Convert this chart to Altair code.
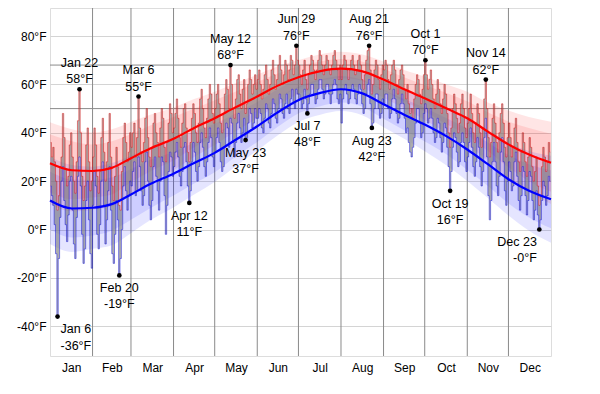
import altair as alt
import pandas as pd

# ---------------- data ----------------
month_names = ["Jan", "Feb", "Mar", "Apr", "May", "Jun", "Jul", "Aug", "Sep", "Oct", "Nov", "Dec"]
month_starts = [31, 59, 90, 120, 151, 181, 212, 243, 273, 304, 334]
month_mids = [15.5, 45, 74.5, 105, 135.5, 166, 196.5, 227.5, 258, 288.5, 319, 349.5]
y_ticks = [-40, -20, 0, 20, 40, 60, 80]
dark_lines = [50, 68]

hi_jan = [36, 30, 34, 28, 20, 8, 14, 26, 30, 48, 38, 25, 18, 22, 35, 40, 30, 20, 15, 28, 45, 58, 40, 22, 12, 18, 35, 42, 28, 16, 20]
lo_jan = [18, 14, 10, 2, -10, -36, -12, 5, 20, 26, 12, 2, -5, 6, 20, 22, 8, -6, -12, 5, 22, 30, 18, -2, -14, -8, 12, 20, 4, -10, -16]
hi_feb = [30, 42, 35, 22, 15, 24, 38, 46, 32, 20, 28, 36, 48, 30, 18, 12, 22, 34, 26, 10, 8, 24, 38, 44, 36, 28, 32, 40]
lo_feb = [10, 24, 18, -2, -8, 2, 20, 28, 10, -6, 4, 16, 26, 8, -10, -14, -2, 12, 4, -19, -12, 0, 18, 26, 16, 8, 14, 20]
hi_mar = [34, 40, 44, 30, 38, 55, 42, 32, 28, 36, 46, 50, 38, 30, 26, 34, 44, 48, 40, 36, 30, 42, 50, 46, 34, 28, 36, 44, 52, 48, 40]
lo_mar = [18, 24, 28, 14, 16, 30, 26, 16, 10, 14, 28, 32, 20, 10, 4, 12, 26, 30, 22, 16, 8, 20, 30, 28, 14, -2, 10, 24, 32, 30, 22]
hi_apr = [42, 48, 54, 46, 38, 34, 44, 50, 52, 42, 32, 28, 36, 46, 52, 48, 40, 36, 44, 54, 58, 50, 42, 38, 46, 54, 60, 56, 48, 44]
lo_apr = [26, 32, 36, 30, 22, 18, 24, 34, 36, 28, 18, 11, 16, 28, 36, 32, 24, 20, 26, 36, 40, 34, 26, 22, 28, 36, 42, 38, 30, 26]
hi_may = [50, 56, 60, 52, 44, 40, 48, 56, 62, 58, 50, 68, 60, 50, 46, 54, 62, 64, 56, 50, 58, 62, 48, 52, 60, 66, 62, 56, 60, 64, 58]
lo_may = [32, 38, 42, 36, 28, 24, 26, 34, 44, 42, 34, 46, 44, 36, 30, 36, 44, 48, 42, 36, 40, 46, 37, 38, 44, 50, 48, 42, 44, 50, 46]
hi_jun = [62, 66, 60, 54, 58, 64, 68, 62, 56, 60, 66, 70, 64, 58, 62, 68, 72, 66, 60, 64, 70, 68, 62, 66, 72, 70, 64, 68, 76, 70]
lo_jun = [46, 50, 48, 42, 40, 46, 52, 50, 44, 42, 48, 54, 52, 46, 44, 50, 56, 54, 48, 46, 52, 56, 50, 48, 54, 58, 52, 50, 58, 56]
hi_jul = [68, 64, 60, 66, 70, 62, 58, 64, 68, 72, 70, 66, 62, 66, 70, 74, 72, 68, 64, 68, 72, 70, 66, 64, 68, 72, 74, 70, 66, 62, 68]
lo_jul = [56, 54, 50, 52, 58, 54, 48, 52, 56, 60, 60, 56, 52, 54, 58, 62, 62, 58, 54, 56, 60, 60, 56, 52, 56, 60, 62, 60, 54, 52, 56]
hi_aug = [62, 68, 72, 70, 66, 62, 66, 70, 72, 68, 64, 66, 70, 72, 68, 62, 58, 64, 70, 74, 76, 66, 56, 60, 66, 70, 68, 62, 58, 64, 68]
lo_aug = [44, 54, 58, 60, 56, 52, 54, 58, 60, 58, 54, 52, 56, 60, 58, 52, 48, 50, 56, 60, 62, 52, 42, 44, 50, 56, 56, 50, 46, 48, 54]
hi_sep = [66, 70, 68, 62, 58, 64, 68, 70, 66, 60, 56, 62, 66, 68, 64, 58, 54, 60, 52, 48, 50, 46, 54, 60, 64, 62, 56, 52, 58, 64]
lo_sep = [52, 56, 56, 50, 46, 48, 54, 58, 54, 48, 44, 46, 52, 56, 52, 46, 40, 42, 36, 32, 30, 34, 38, 44, 50, 50, 44, 38, 40, 48]
hi_oct = [70, 64, 58, 62, 66, 60, 54, 50, 56, 62, 58, 52, 48, 54, 60, 56, 48, 40, 34, 42, 50, 56, 52, 46, 40, 44, 52, 56, 50, 42, 38]
lo_oct = [52, 50, 44, 46, 50, 46, 40, 36, 38, 46, 44, 38, 32, 36, 44, 42, 34, 26, 16, 24, 34, 40, 38, 32, 26, 28, 36, 40, 36, 28, 24]
hi_nov = [44, 50, 56, 48, 40, 36, 44, 52, 48, 40, 34, 42, 54, 62, 50, 38, 30, 36, 46, 52, 44, 36, 32, 40, 48, 52, 44, 34, 30, 38]
lo_nov = [30, 36, 42, 34, 26, 22, 28, 38, 34, 26, 18, 24, 38, 46, 30, 14, 4, 12, 28, 36, 28, 18, 14, 22, 32, 38, 28, 16, 10, 20]
hi_dec = [44, 38, 30, 34, 42, 46, 36, 28, 24, 32, 40, 36, 28, 22, 30, 38, 34, 26, 20, 24, 30, 18, 10, 14, 26, 34, 30, 24, 28, 36, 32]
lo_dec = [28, 24, 16, 18, 28, 32, 22, 12, 8, 14, 26, 24, 14, 6, 12, 24, 22, 12, 4, 8, 16, 6, 0, 4, 12, 20, 18, 10, 14, 22, 20]

# normals (read at roughly half-month points)
norm_day = [0, 16, 31, 45, 59, 73, 90, 105, 120, 135, 151, 166, 182, 197, 212, 227, 243, 258, 273, 289, 304, 319, 334, 349, 365]
hi_mean = [27.4, 24.5, 24.2, 25.5, 29.5, 33.5, 37.5, 42, 46, 50.5, 55, 59.5, 63.2, 65.5, 66.5, 65.5, 62, 58, 54.3, 50, 46, 40.5, 35.2, 31, 27.6]
hi_p90 = [44.4, 41.5, 40.2, 41.5, 44.5, 47.5, 50.5, 54, 57, 60.5, 64, 67.5, 70.2, 72.5, 73.5, 72.5, 69.5, 66, 63.3, 60, 57, 52.5, 49.2, 46.5, 44.6]
hi_p75 = [39.4, 36.5, 35.2, 36.5, 39.5, 43, 46.5, 50, 53.5, 57, 61, 64.5, 67.7, 69.5, 70.5, 69.5, 66.5, 63, 59.8, 56.5, 53, 48.5, 44.7, 42, 39.6]
hi_p25 = [15.4, 12.5, 13.2, 14.5, 19.5, 24, 28.5, 34, 38.5, 44, 49, 54.5, 58.7, 61.5, 62.5, 61.5, 57.5, 53, 48.8, 43.5, 39, 32.5, 25.7, 20, 15.6]
hi_p10 = [10.4, 7.5, 8.2, 9.5, 14.5, 19.5, 24.5, 30, 35, 40.5, 46, 51.5, 56.2, 58.5, 59.5, 58.5, 54.5, 50, 45.3, 40, 35, 28.5, 21.2, 15.5, 10.6]
lo_mean = [12, 8.7, 9, 10.5, 14.5, 18.8, 23.1, 27.5, 31.7, 37, 42.7, 48.5, 53.8, 56.5, 58, 56.4, 51.8, 47.5, 43.4, 38.5, 33.1, 27, 20.8, 16, 12.5]
lo_p90 = [30, 26.7, 26, 27.5, 30.5, 33.8, 37.1, 40.5, 43.7, 48, 52.7, 58, 62.8, 65.5, 67, 65.4, 61.3, 57.5, 54.4, 50.5, 46.1, 41, 35.8, 32.5, 30.5]
lo_p75 = [24, 20.7, 20.5, 21.5, 25, 28.8, 32.1, 36, 39.7, 44, 49.2, 54.5, 59.3, 62, 63.5, 61.9, 57.8, 54, 50.4, 46, 41.6, 36, 30.8, 27, 24.5]
lo_p25 = [0, -3.3, -2.5, -0.5, 4, 8.8, 14.1, 19, 23.7, 30, 36.2, 42.5, 48.3, 51, 52.5, 50.9, 45.8, 41, 36.4, 31, 24.6, 18, 10.8, 5, 0.5]
lo_p10 = [-6, -9.3, -8, -6.5, -1.5, 3.8, 9.1, 14.5, 19.7, 26, 32.7, 39, 44.8, 47.5, 49, 47.4, 42.3, 37.5, 32.4, 26.5, 20.1, 13, 5.8, -0.5, -5.5]

# annotations: day index, value, date label, value label
ann_hi_day = [21, 64, 131, 179, 232, 273, 317]
ann_hi_val = [58, 55, 68, 76, 76, 70, 62]
ann_hi_date = ["Jan 22", "Mar 6", "May 12", "Jun 29", "Aug 21", "Oct 1", "Nov 14"]
ann_hi_txt = ["58°F", "55°F", "68°F", "76°F", "76°F", "70°F", "62°F"]
ann_lo_day = [50, 101, 142, 187, 234, 291]
ann_lo_val = [-19, 11, 37, 48, 42, 16]
ann_lo_date = ["Feb 20", "Apr 12", "May 23", "Jul 7", "Aug 23", "Oct 19"]
ann_lo_txt = ["-19°F", "11°F", "37°F", "48°F", "42°F", "16°F"]
ann_left = {"day": [5], "val": [-36], "date": ["Jan 6"], "txt": ["-36°F"]}
ann_right = {"day": [356], "val": [0], "date": ["Dec 23"], "txt": ["-0°F"]}

# ---------------- tables ----------------
highs = hi_jan + hi_feb + hi_mar + hi_apr + hi_may + hi_jun + hi_jul + hi_aug + hi_sep + hi_oct + hi_nov + hi_dec
lows = lo_jan + lo_feb + lo_mar + lo_apr + lo_may + lo_jun + lo_jul + lo_aug + lo_sep + lo_oct + lo_nov + lo_dec
daily = pd.DataFrame({"x": [d + 0.5 for d in range(len(highs))], "hi": highs, "lo": lows})
norms = pd.DataFrame({
    "x": norm_day, "hm": hi_mean, "h90": hi_p90, "h75": hi_p75, "h25": hi_p25, "h10": hi_p10,
    "lm": lo_mean, "l90": lo_p90, "l75": lo_p75, "l25": lo_p25, "l10": lo_p10,
})
ann_hi = pd.DataFrame({"x": [d + 0.5 for d in ann_hi_day], "y": ann_hi_val, "date": ann_hi_date, "txt": ann_hi_txt})
ann_lo = pd.DataFrame({"x": [d + 0.5 for d in ann_lo_day], "y": ann_lo_val, "date": ann_lo_date, "txt": ann_lo_txt})
ann_l = pd.DataFrame({"x": [d + 0.5 for d in ann_left["day"]], "y": ann_left["val"], "date": ann_left["date"], "txt": ann_left["txt"]})
ann_r = pd.DataFrame({"x": [d + 0.5 for d in ann_right["day"]], "y": ann_right["val"], "date": ann_right["date"], "txt": ann_right["txt"]})
all_ann = pd.concat([ann_hi, ann_lo, ann_l, ann_r])

# ---------------- encodings ----------------
FONT = "Liberation Sans"
xscale = alt.Scale(domain=[0, 365], nice=False, zero=False)
yscale = alt.Scale(domain=[-52.3, 91.6], nice=False, zero=False)
label_arr = "[" + ",".join("'%s'" % m for m in month_names) + "]"
xaxis = alt.Axis(values=month_mids, labelExpr=label_arr + "[floor(datum.value/30.42)]",
                 grid=False, ticks=False, tickSize=0, domain=False, title=None,
                 labelFontSize=12, labelColor="#000", labelPadding=6, labelFont=FONT)
yaxis = alt.Axis(values=y_ticks, labelExpr="datum.value + '°F'", grid=True, gridColor="#d4d4d4",
                 ticks=False, tickSize=0, domain=False, title=None,
                 labelFontSize=12, labelColor="#000", labelPadding=4, labelFont=FONT)


def X(f):
    return alt.X(f"{f}:Q", scale=xscale, axis=xaxis)


def Y(f):
    return alt.Y(f"{f}:Q", scale=yscale, axis=yaxis)


layers = []
layers.append(alt.Chart(pd.DataFrame({"x": month_starts})).mark_rule(color="#8a8a8a", strokeWidth=1).encode(x=X("x")))
layers.append(alt.Chart(pd.DataFrame({"y": dark_lines})).mark_rule(color="#8a8a8a", strokeWidth=1).encode(y=Y("y")))

base_n = alt.Chart(norms)
layers.append(base_n.mark_area(color="red", opacity=0.1, interpolate="monotone").encode(x=X("x"), y=Y("h10"), y2="h90:Q"))
layers.append(base_n.mark_area(color="red", opacity=0.1, interpolate="monotone").encode(x=X("x"), y=Y("h25"), y2="h75:Q"))
layers.append(base_n.mark_area(color="blue", opacity=0.1, interpolate="monotone").encode(x=X("x"), y=Y("l10"), y2="l90:Q"))
layers.append(base_n.mark_area(color="blue", opacity=0.1, interpolate="monotone").encode(x=X("x"), y=Y("l25"), y2="l75:Q"))

base_d = alt.Chart(daily)
layers.append(base_d.mark_area(color="#7a7a7a", opacity=0.62, interpolate="step").encode(x=X("x"), y=Y("lo"), y2="hi:Q"))
layers.append(base_d.mark_line(color="#e00000", opacity=0.45, strokeWidth=1, interpolate="step").encode(x=X("x"), y=Y("hi")))
layers.append(base_d.mark_line(color="#0000e0", opacity=0.45, strokeWidth=1, interpolate="step").encode(x=X("x"), y=Y("lo")))

layers.append(base_n.mark_line(color="#ff0000", strokeWidth=2.2, interpolate="monotone").encode(x=X("x"), y=Y("hm")))
layers.append(base_n.mark_line(color="#0000ff", strokeWidth=2.2, interpolate="monotone").encode(x=X("x"), y=Y("lm")))

layers.append(alt.Chart(all_ann).mark_circle(color="black", opacity=1, size=22).encode(x=X("x"), y=Y("y")))


def txt(df, field, align, dx, dy):
    return alt.Chart(df).mark_text(align=align, baseline="middle", dx=dx, dy=dy, fontSize=12.5,
                                   font=FONT, color="#000").encode(x=X("x"), y=Y("y"), text=f"{field}:N")


layers += [
    txt(ann_hi, "date", "center", 0, -26.5), txt(ann_hi, "txt", "center", 0, -10),
    txt(ann_lo, "date", "center", 0, 12.7), txt(ann_lo, "txt", "center", 0, 28.8),
    txt(ann_l, "date", "left", 3, 12.7), txt(ann_l, "txt", "left", 3, 29.2),
    txt(ann_r, "date", "right", -2.5, 12.7), txt(ann_r, "txt", "right", -2.5, 28.5),
]

chart = alt.layer(*layers).properties(
    width=501, height=348,
    autosize=alt.AutoSizeParams(type="none"),
    padding={"left": 42, "top": 0, "right": 41, "bottom": 30},
).configure_view(stroke="#8a8a8a", strokeWidth=1).configure(font=FONT)

chart.save("out.html", embed_options={"renderer": "svg", "actions": False})
